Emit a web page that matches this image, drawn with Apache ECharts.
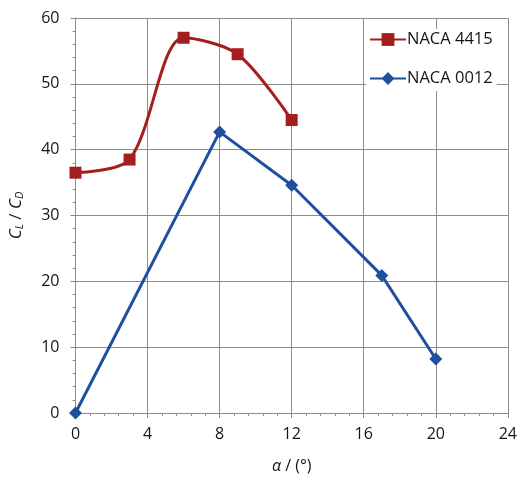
<!DOCTYPE html>
<html style="height: 100%">
    <head>
        <title>Lift to drag ratio</title>
        <script type="text/javascript" src="https://cdn.jsdelivr.net/npm/echarts@6/dist/echarts.min.js"></script>
    </head>
    <body style="height: 100%; margin: 0; background: #fff">
        <div id="target" style="width: 520px; height: 479px"></div>
<script>
// angle of attack (deg) and CL/CD values
let alpha4415 = [0, 3, 6, 9, 12];
let ratio4415 = [36.5, 38.5, 57.0, 54.5, 44.5];

let alpha0012 = [0, 8, 12, 17, 20];
let ratio0012 = [0, 42.7, 34.6, 20.9, 8.2];

let red = "#a21f1d";
let blue = "#1f4f9f";
let font = "Open Sans";
let ink = "#151515";
let gridGrey = "#8c8c8c";

let chart = echarts.init(document.getElementById('target'));

let zip = (xs, ys) => xs.map((x, i) => [x, ys[i]]);

let option = {
    animation: false,
    textStyle: { fontFamily: font },
    grid: {
        left: 75,
        right: 11,
        top: 18,
        bottom: 64,
    },
    legend: {
        left: 366,
        top: 29,
        orient: "vertical",
        itemGap: 22,
        itemWidth: 36,
        itemHeight: 16,
        backgroundColor: "#fff",
        padding: [2, 4, 4, 3],
        textStyle: { fontSize: 16.5, color: ink, fontFamily: font, padding: [0, 0, 0, -4] },
        data: ["NACA 4415", "NACA 0012"],
    },
    xAxis: {
        type: "value",
        min: 0,
        max: 24,
        interval: 4,
        name: "{i|α} / (°)",
        nameLocation: "middle",
        nameGap: 45,
        nameTextStyle: {
            fontSize: 16,
            color: ink,
            rich: { i: { fontStyle: "italic", fontSize: 16, color: ink } },
        },
        axisLine: { lineStyle: { color: gridGrey, width: 1 } },
        axisTick: { show: true, length: 5, lineStyle: { color: gridGrey } },
        minorTick: { show: true, splitNumber: 5, length: 3, lineStyle: { color: gridGrey } },
        splitLine: { show: true, lineStyle: { color: gridGrey, width: 1 } },
        axisLabel: { fontSize: 16, color: ink, margin: 13 },
    },
    yAxis: {
        type: "value",
        min: 0,
        max: 60,
        interval: 10,
        name: "{i|C}{s|L} / {i|C}{s|D}",
        nameLocation: "middle",
        nameGap: 50,
        nameTextStyle: {
            fontSize: 17,
            color: ink,
            rich: {
                i: { fontStyle: "italic", fontSize: 17, color: ink },
                s: { fontStyle: "italic", fontSize: 11, color: ink, verticalAlign: "bottom", padding: [7, 0, 0, 0] },
            },
        },
        axisLine: { show: true, lineStyle: { color: gridGrey, width: 1 } },
        axisTick: { show: true, length: 5, lineStyle: { color: gridGrey } },
        minorTick: { show: true, splitNumber: 5, length: 3, lineStyle: { color: gridGrey } },
        splitLine: { show: true, lineStyle: { color: gridGrey, width: 1 } },
        axisLabel: { fontSize: 16, color: ink, margin: 16 },
    },
    series: [
        {
            name: "NACA 4415",
            type: "line",
            smooth: 0.3,
            data: zip(alpha4415, ratio4415),
            symbol: "rect",
            symbolSize: 12,
            lineStyle: { color: red, width: 3 },
            itemStyle: { color: red },
            z: 3,
        },
        {
            name: "NACA 0012",
            type: "line",
            data: zip(alpha0012, ratio0012),
            symbol: "diamond",
            symbolSize: 13,
            lineStyle: { color: blue, width: 3 },
            itemStyle: { color: blue },
            z: 2,
        },
    ],
};

chart.setOption(option);
</script>
    </body>
</html>
